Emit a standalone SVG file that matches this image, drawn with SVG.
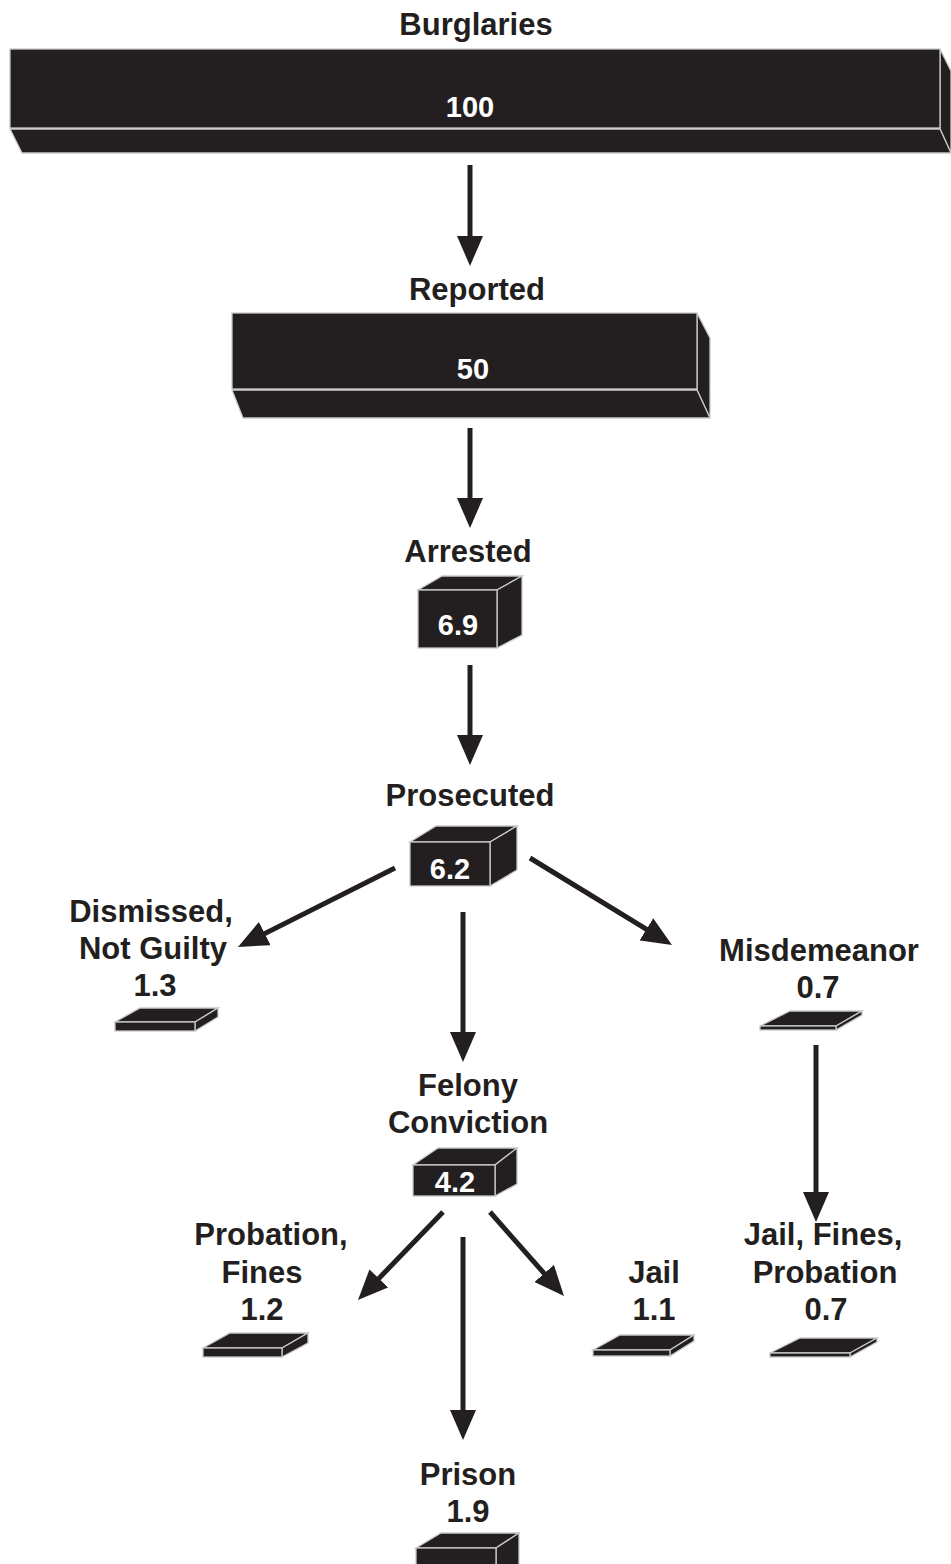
<svg xmlns="http://www.w3.org/2000/svg" width="951" height="1564" viewBox="0 0 951 1564">
<style>
.f{fill:#231f20;stroke:#c8c9cb;stroke-width:1.3;stroke-linejoin:miter}
.t{font-family:"Liberation Sans",Arial,sans-serif;font-weight:bold;font-size:31px;fill:#231f20;text-anchor:middle}
.n{font-family:"Liberation Sans",Arial,sans-serif;font-weight:bold;font-size:29px;fill:#ffffff;text-anchor:middle}
.c{stroke:#231f20;stroke-width:5;fill:none}
</style>
<defs>
<marker id="ah" viewBox="0 0 30 26" refX="17" refY="13" markerWidth="30" markerHeight="26" markerUnits="userSpaceOnUse" orient="auto">
<path d="M0,0 L30,13 L0,26 z" fill="#231f20"/>
</marker>
</defs>
<rect width="951" height="1564" fill="#ffffff"/>
<g id="connectors">
<line class="c" x1="470" y1="165" x2="470" y2="253" marker-end="url(#ah)"/>
<line class="c" x1="470" y1="428" x2="470" y2="515" marker-end="url(#ah)"/>
<line class="c" x1="470" y1="665" x2="470" y2="752" marker-end="url(#ah)"/>
<line class="c" x1="463" y1="912" x2="463" y2="1049" marker-end="url(#ah)"/>
<line class="c" x1="395" y1="868" x2="249.6" y2="941.2" marker-end="url(#ah)"/>
<line class="c" x1="530" y1="858" x2="660.9" y2="938.2" marker-end="url(#ah)"/>
<line class="c" x1="816" y1="1045" x2="816" y2="1209" marker-end="url(#ah)"/>
<line class="c" x1="443" y1="1212" x2="367" y2="1290.7" marker-end="url(#ah)"/>
<line class="c" x1="490" y1="1212" x2="555.4" y2="1286.2" marker-end="url(#ah)"/>
<line class="c" x1="463" y1="1237" x2="463" y2="1427" marker-end="url(#ah)"/>
</g>
<g id="burglaries">
<polygon class="f" points="940,49 951,71 951,153 940,129"/>
<polygon class="f" points="10,129 940,129 951,153 22,153"/>
<rect class="f" x="10" y="49" width="930" height="79"/>
<text class="t" x="476" y="35">Burglaries</text>
<text class="n" x="470" y="117">100</text>
</g>
<g id="reported">
<polygon class="f" points="697,313 710,338 710,418 697,390"/>
<polygon class="f" points="232,390 697,390 710,418 243,418"/>
<rect class="f" x="232" y="313" width="465" height="76"/>
<text class="t" x="477" y="300">Reported</text>
<text class="n" x="473" y="379">50</text>
</g>
<g id="arrested">
<polygon class="f" points="418,590 442,576 522,576 497,590"/>
<polygon class="f" points="497,590 522,576 522,635 497,648"/>
<rect class="f" x="418" y="590" width="79" height="58"/>
<text class="t" x="468" y="562">Arrested</text>
<text class="n" x="458" y="635">6.9</text>
</g>
<g id="prosecuted">
<polygon class="f" points="410,842 436,826 517,826 490,842"/>
<polygon class="f" points="490,842 517,826 517,870 490,886"/>
<rect class="f" x="410" y="842" width="80" height="44"/>
<text class="t" x="470" y="806">Prosecuted</text>
<text class="n" x="450" y="879">6.2</text>
</g>
<g id="dismissed">
<polygon class="f" points="115,1022 140,1008 218,1008 195,1022"/>
<polygon class="f" points="195,1022 218,1008 218,1017 195,1031"/>
<rect class="f" x="115" y="1022" width="80" height="9"/>
<text class="t" x="151" y="922">Dismissed,</text>
<text class="t" x="153" y="959">Not Guilty</text>
<text class="t" x="155" y="996">1.3</text>
</g>
<g id="misdemeanor">
<polygon class="f" points="760,1026 790,1011 862,1011 836,1026"/>
<polygon class="f" points="836,1026 862,1011 862,1015 836,1030"/>
<rect class="f" x="760" y="1026" width="76" height="4"/>
<text class="t" x="819" y="961">Misdemeanor</text>
<text class="t" x="818" y="998">0.7</text>
</g>
<g id="felony">
<polygon class="f" points="413,1165 438,1148 517,1148 495,1165"/>
<polygon class="f" points="495,1165 517,1148 517,1184 495,1196"/>
<rect class="f" x="413" y="1165" width="82" height="31"/>
<text class="t" x="468" y="1096">Felony</text>
<text class="t" x="468" y="1133">Conviction</text>
<text class="n" x="455" y="1192">4.2</text>
</g>
<g id="probation">
<polygon class="f" points="203,1348 230,1333 308,1333 282,1348"/>
<polygon class="f" points="282,1348 308,1333 308,1343 282,1357"/>
<rect class="f" x="203" y="1348" width="79" height="9"/>
<text class="t" x="271" y="1245">Probation,</text>
<text class="t" x="262" y="1283">Fines</text>
<text class="t" x="262" y="1320">1.2</text>
</g>
<g id="jail">
<polygon class="f" points="593,1350 620,1335 694,1335 670,1350"/>
<polygon class="f" points="670,1350 694,1335 694,1341 670,1356"/>
<rect class="f" x="593" y="1350" width="77" height="6"/>
<text class="t" x="654" y="1283">Jail</text>
<text class="t" x="654" y="1320">1.1</text>
</g>
<g id="jailfines">
<polygon class="f" points="770,1353 800,1338 877,1338 850,1353"/>
<polygon class="f" points="850,1353 877,1338 877,1342 850,1357"/>
<rect class="f" x="770" y="1353" width="80" height="4"/>
<text class="t" x="823" y="1245">Jail, Fines,</text>
<text class="t" x="825" y="1283">Probation</text>
<text class="t" x="826" y="1320">0.7</text>
</g>
<g id="prison">
<polygon class="f" points="416,1548 441,1533 519,1533 496,1548"/>
<polygon class="f" points="496,1548 519,1533 519,1565 496,1565"/>
<rect class="f" x="416" y="1548" width="80" height="18"/>
<text class="t" x="468" y="1485">Prison</text>
<text class="t" x="468" y="1522">1.9</text>
</g>
</svg>
